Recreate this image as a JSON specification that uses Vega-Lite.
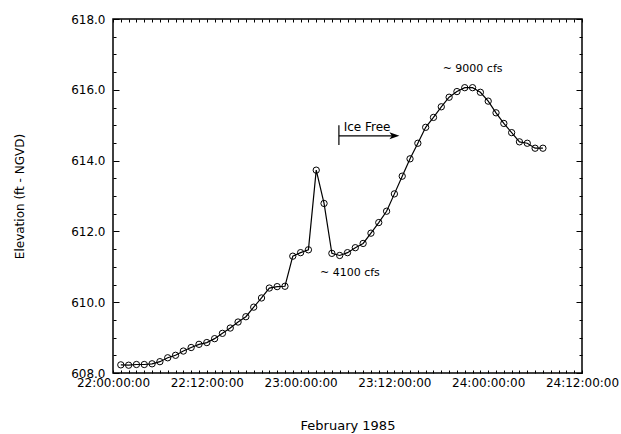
{
  "$schema": "https://vega.github.io/schema/vega-lite/v6.json",
  "width": 469,
  "height": 354,
  "autosize": {"type": "none"},
  "padding": {"left": 113, "top": 19, "right": 39, "bottom": 61},
  "background": "white",
  "config": {
    "view": {"stroke": "black", "strokeWidth": 1.5},
    "axis": {
      "grid": false,
      "domain": false,
      "labelFont": "DejaVu Sans",
      "labelFontSize": 12,
      "labelColor": "black",
      "titleFont": "DejaVu Sans",
      "titleFontSize": 12,
      "titleFontWeight": "normal",
      "titleColor": "black",
      "tickColor": "black",
      "tickWidth": 1,
      "labelFlush": false,
      "labelOverlap": false
    }
  },
  "datasets": {
    "series": [
      {"hour": 1, "elevation": 608.23},
      {"hour": 2, "elevation": 608.22},
      {"hour": 3, "elevation": 608.24},
      {"hour": 4, "elevation": 608.24},
      {"hour": 5, "elevation": 608.26},
      {"hour": 6, "elevation": 608.32},
      {"hour": 7, "elevation": 608.43},
      {"hour": 8, "elevation": 608.50},
      {"hour": 9, "elevation": 608.62},
      {"hour": 10, "elevation": 608.72},
      {"hour": 11, "elevation": 608.81},
      {"hour": 12, "elevation": 608.86},
      {"hour": 13, "elevation": 608.97},
      {"hour": 14, "elevation": 609.12},
      {"hour": 15, "elevation": 609.27},
      {"hour": 16, "elevation": 609.44},
      {"hour": 17, "elevation": 609.59},
      {"hour": 18, "elevation": 609.86},
      {"hour": 19, "elevation": 610.12},
      {"hour": 20, "elevation": 610.40},
      {"hour": 21, "elevation": 610.44},
      {"hour": 22, "elevation": 610.45},
      {"hour": 23, "elevation": 611.30},
      {"hour": 24, "elevation": 611.40},
      {"hour": 25, "elevation": 611.48},
      {"hour": 26, "elevation": 613.73},
      {"hour": 27, "elevation": 612.79},
      {"hour": 28, "elevation": 611.38},
      {"hour": 29, "elevation": 611.32},
      {"hour": 30, "elevation": 611.40},
      {"hour": 31, "elevation": 611.54},
      {"hour": 32, "elevation": 611.66},
      {"hour": 33, "elevation": 611.95},
      {"hour": 34, "elevation": 612.25},
      {"hour": 35, "elevation": 612.57},
      {"hour": 36, "elevation": 613.06},
      {"hour": 37, "elevation": 613.56},
      {"hour": 38, "elevation": 614.05},
      {"hour": 39, "elevation": 614.49},
      {"hour": 40, "elevation": 614.94},
      {"hour": 41, "elevation": 615.22},
      {"hour": 42, "elevation": 615.52},
      {"hour": 43, "elevation": 615.79},
      {"hour": 44, "elevation": 615.95},
      {"hour": 45, "elevation": 616.06},
      {"hour": 46, "elevation": 616.06},
      {"hour": 47, "elevation": 615.93},
      {"hour": 48, "elevation": 615.68},
      {"hour": 49, "elevation": 615.35},
      {"hour": 50, "elevation": 615.05},
      {"hour": 51, "elevation": 614.79},
      {"hour": 52, "elevation": 614.53},
      {"hour": 53, "elevation": 614.49},
      {"hour": 54, "elevation": 614.35},
      {"hour": 55, "elevation": 614.35}
    ],
    "flow_notes": [
      {"label": "~ 4100 cfs", "hour": 30.3, "elevation": 610.83},
      {"label": "~ 9000 cfs", "hour": 46.0, "elevation": 616.58}
    ],
    "ice_note": [
      {"label": "Ice Free", "hour": 32.5, "elevation": 614.96}
    ],
    "arrow_shaft": [
      {"start": 28.9, "end": 36.2, "elevation": 614.70}
    ],
    "arrow_bar": [
      {"hour": 28.9, "low": 614.44, "high": 615.0}
    ],
    "arrow_head": [
      {"hour": 36.0, "elevation": 614.70}
    ]
  },
  "resolve": {"axis": {"x": "independent", "y": "independent"}},
  "layer": [
    {
      "data": {"name": "series"},
      "mark": {"type": "line", "color": "black", "strokeWidth": 1.2},
      "encoding": {
        "x": {
          "field": "hour", "type": "quantitative",
          "scale": {"domain": [0, 60], "nice": false, "zero": false},
          "axis": {
            "orient": "bottom",
            "title": "February 1985",
            "titleFontSize": 13,
            "titlePadding": 31,
            "values": [0,1,2,3,4,5,6,7,8,9,10,11,12,13,14,15,16,17,18,19,20,21,22,23,24,25,26,27,28,29,30,31,32,33,34,35,36,37,38,39,40,41,42,43,44,45,46,47,48,49,50,51,52,53,54,55,56,57,58,59,60],
            "labelExpr": "datum.value % 12 == 0 ? (22 + floor(datum.value / 24)) + ':' + (datum.value % 24 == 0 ? '00' : '12') + ':00:00' : ''",
            "tickSize": -3,
            "labelPadding": 7
          }
        },
        "y": {
          "field": "elevation", "type": "quantitative",
          "scale": {"domain": [608, 618], "nice": false, "zero": false},
          "axis": {
            "orient": "left",
            "title": "Elevation (ft - NGVD)",
            "titlePadding": 44,
            "values": [608, 610, 612, 614, 616, 618],
            "format": ".1f",
            "tickSize": -6,
            "labelPadding": 14
          }
        }
      }
    },
    {
      "data": {"name": "series"},
      "mark": {"type": "point", "shape": "circle", "filled": false, "stroke": "black", "strokeWidth": 1, "size": 40, "opacity": 1},
      "encoding": {
        "x": {
          "field": "hour", "type": "quantitative",
          "scale": {"domain": [0, 60], "nice": false, "zero": false},
          "axis": {
            "orient": "top",
            "title": null,
            "labels": false,
            "values": [0,1,2,3,4,5,6,7,8,9,10,11,12,13,14,15,16,17,18,19,20,21,22,23,24,25,26,27,28,29,30,31,32,33,34,35,36,37,38,39,40,41,42,43,44,45,46,47,48,49,50,51,52,53,54,55,56,57,58,59,60],
            "tickSize": -3
          }
        },
        "y": {
          "field": "elevation", "type": "quantitative",
          "scale": {"domain": [608, 618], "nice": false, "zero": false},
          "axis": {
            "orient": "right",
            "title": null,
            "labels": false,
            "values": [608, 610, 612, 614, 616, 618],
            "tickSize": -6
          }
        }
      }
    },
    {
      "data": {"name": "flow_notes"},
      "mark": {"type": "text", "font": "DejaVu Sans", "fontSize": 11, "color": "black", "align": "center", "baseline": "middle"},
      "encoding": {
        "x": {"field": "hour", "type": "quantitative", "axis": null, "scale": {"domain": [0, 60], "nice": false, "zero": false}},
        "y": {
          "field": "elevation", "type": "quantitative",
          "scale": {"domain": [608, 618], "nice": false, "zero": false},
          "axis": {
            "orient": "left",
            "title": null,
            "labels": false,
            "values": [608.5, 609, 609.5, 610.5, 611, 611.5, 612.5, 613, 613.5, 614.5, 615, 615.5, 616.5, 617, 617.5],
            "tickSize": -3
          }
        },
        "text": {"field": "label"}
      }
    },
    {
      "data": {"name": "ice_note"},
      "mark": {"type": "text", "font": "DejaVu Sans", "fontSize": 12, "color": "black", "align": "center", "baseline": "middle"},
      "encoding": {
        "x": {"field": "hour", "type": "quantitative", "axis": null, "scale": {"domain": [0, 60], "nice": false, "zero": false}},
        "y": {
          "field": "elevation", "type": "quantitative",
          "scale": {"domain": [608, 618], "nice": false, "zero": false},
          "axis": {
            "orient": "right",
            "title": null,
            "labels": false,
            "values": [608.5, 609, 609.5, 610.5, 611, 611.5, 612.5, 613, 613.5, 614.5, 615, 615.5, 616.5, 617, 617.5],
            "tickSize": -3
          }
        },
        "text": {"field": "label"}
      }
    },
    {
      "data": {"name": "arrow_shaft"},
      "mark": {"type": "rule", "color": "black", "strokeWidth": 1.2},
      "encoding": {
        "x": {"field": "start", "type": "quantitative", "axis": null, "scale": {"domain": [0, 60], "nice": false, "zero": false}},
        "x2": {"field": "end"},
        "y": {"field": "elevation", "type": "quantitative", "axis": null, "scale": {"domain": [608, 618], "nice": false, "zero": false}}
      }
    },
    {
      "data": {"name": "arrow_bar"},
      "mark": {"type": "rule", "color": "black", "strokeWidth": 1.2},
      "encoding": {
        "x": {"field": "hour", "type": "quantitative", "axis": null, "scale": {"domain": [0, 60], "nice": false, "zero": false}},
        "y": {"field": "low", "type": "quantitative", "axis": null, "scale": {"domain": [608, 618], "nice": false, "zero": false}},
        "y2": {"field": "high"}
      }
    },
    {
      "data": {"name": "arrow_head"},
      "mark": {"type": "point", "shape": "M-1,-0.7L1,0L-1,0.7L-0.5,0Z", "filled": true, "color": "black", "size": 100, "opacity": 1},
      "encoding": {
        "x": {"field": "hour", "type": "quantitative", "axis": null, "scale": {"domain": [0, 60], "nice": false, "zero": false}},
        "y": {"field": "elevation", "type": "quantitative", "axis": null, "scale": {"domain": [608, 618], "nice": false, "zero": false}}
      }
    }
  ]
}
